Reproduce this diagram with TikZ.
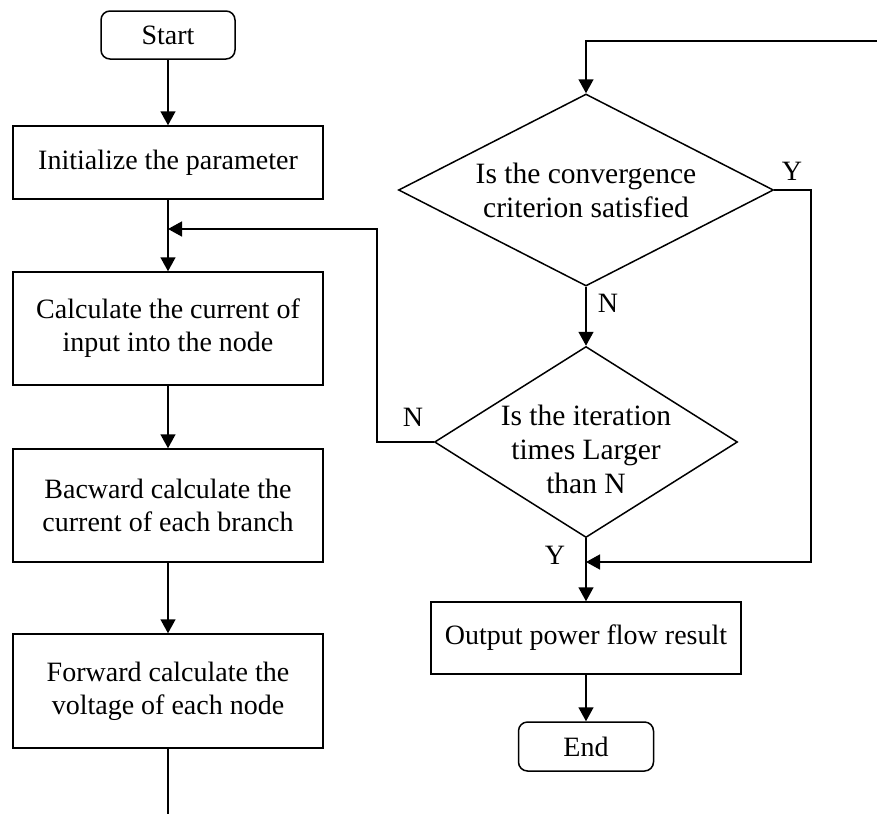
\documentclass[tikz,border=0pt]{standalone}
\usepackage{fontspec}
\setmainfont{Liberation Serif}
\usetikzlibrary{shapes.geometric,arrows.meta}
\begin{document}
\begin{tikzpicture}[x=1pt,y=-1pt,
  line width=1.5pt,
  every node/.style={font=\fontsize{28}{33}\selectfont, align=center},
  box/.style={draw, rectangle, inner sep=0pt, minimum width=310pt},
  term/.style={draw, rectangle, rounded corners=9pt, inner sep=0pt,
               minimum width=134pt, minimum height=48pt},
  decision/.style={draw, diamond, inner sep=0pt},
  question/.style={inner sep=0pt, font=\fontsize{29.5}{34}\selectfont},
  flow/.style={-{Triangle[length=14pt,width=15pt]}},
  tag/.style={inner sep=0pt}
]
\useasboundingbox (0,0) rectangle (877,814);

% left column: the back/forward sweep
\node[term] (start) at (168,35) {Start};
\node[box, minimum height=73pt] (init) at (168,162.5) {Initialize the parameter};
\node[box, minimum height=113pt] (calc) at (168,328.5) {Calculate the current of\\input into the node};
\node[box, minimum height=113pt] (back) at (168,505.5) {Bacward calculate the\\current of each branch};
\node[box, minimum height=114pt] (fwd) at (168,691) {Forward calculate the\\voltage of each node};

% right column: convergence checks and output
\node[decision, minimum width=375pt, minimum height=192pt] (d1) at (586,190) {};
\node[question] (d1text) at (586,190) {Is the convergence\\criterion satisfied};
\node[decision, minimum width=303pt, minimum height=191pt] (d2) at (586,442) {};
\node[question] (d2text) at (586,449) {Is the iteration\\times Larger\\than N};
\node[box, minimum height=72pt] (out) at (586,638) {Output power flow result};
\node[term, minimum width=135pt, minimum height=49pt] (stop) at (586,746.5) {End};

% helper points for the loops
\coordinate (j1) at (168,229);
\coordinate (tail) at (168,814);
\coordinate (topin) at (877,41);
\coordinate (j2) at (586,562);

% left column arrows
\draw[flow] (start) -- (init);
\draw[flow] (init) -- (calc);
\draw[flow] (calc) -- (back);
\draw[flow] (back) -- (fwd);
\draw (fwd) -- (tail);

% right column arrows
\draw[flow] (topin) -- (586,41) -- (d1.north);
\draw[flow] (d1) -- (d2);
\draw[flow] (d2) -- (out);
\draw[flow] (out) -- (stop);
\draw[flow] (d1.east) -- (811,190) -- (811,562) -- (j2);
\draw[flow] (d2.west) -- (377,442) -- (377,229) -- (j1);

% branch labels
\node[tag] (ly1) at (792,171) {Y};
\node[tag] (ln1) at (608,303) {N};
\node[tag] (ln2) at (413,417) {N};
\node[tag] (ly2) at (555,555) {Y};
\end{tikzpicture}
\end{document}
